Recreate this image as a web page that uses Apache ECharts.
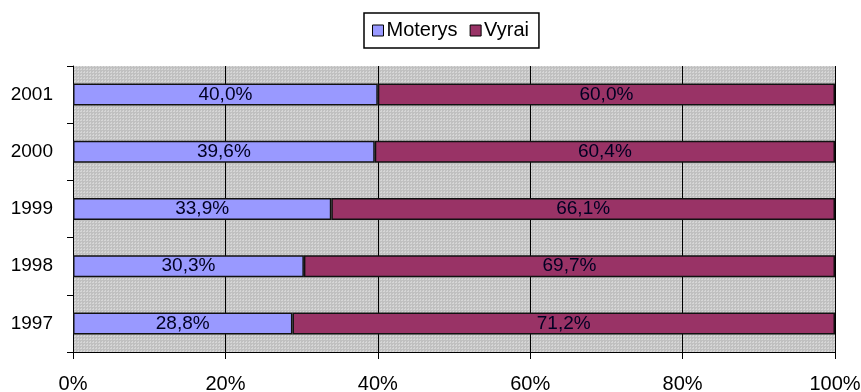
<!DOCTYPE html>
<html>
<head>
<meta charset="utf-8">
<script src="https://cdn.jsdelivr.net/npm/echarts@6/dist/echarts.min.js"></script>
<style>
  html, body { margin: 0; padding: 0; background: #fff; }
  #chart { width: 861px; height: 392px; }
</style>
</head>
<body>
<div id="chart"></div>
<script>
// Share of women (Moterys) and men (Vyrai) by year, in percent
const years = ['1997', '1998', '1999', '2000', '2001'];
const moterys = [28.8, 30.3, 33.9, 39.6, 40.0];
const vyrai = [71.2, 69.7, 66.1, 60.4, 60.0];
const xTicks = [0, 20, 40, 60, 80, 100];

// Dotted grey fill for the plot area
function dotPattern() {
  const c = document.createElement('canvas');
  c.width = 3; c.height = 3;
  const ctx = c.getContext('2d');
  ctx.fillStyle = '#c0c0c0';
  ctx.fillRect(0, 0, 3, 3);
  ctx.fillStyle = '#d6d6d6';
  ctx.fillRect(0, 0, 1, 1);
  ctx.fillRect(0, 2, 1, 1);
  ctx.fillRect(2, 0, 1, 1);
  return c;
}

const fmt = p => p.value.toFixed(1).replace('.', ',') + '%';
const font = 'Arial, "Liberation Sans", sans-serif';

const chart = echarts.init(document.getElementById('chart'));
chart.setOption({
  animation: false,
  textStyle: { fontFamily: font },
  legend: {
    top: 13,
    left: 364,
    itemWidth: 11,
    itemHeight: 11,
    itemGap: 12,
    icon: 'rect',
    borderColor: '#000',
    borderWidth: 1.5,
    padding: [7, 10, 7, 8],
    textStyle: { fontSize: 20, lineHeight: 21, color: '#000', fontFamily: font, padding: [0, 0, 0, -2] },
    data: [
      { name: 'Moterys', itemStyle: { borderColor: '#000', borderWidth: 1 } },
      { name: 'Vyrai', itemStyle: { borderColor: '#000', borderWidth: 1 } }
    ]
  },
  grid: {
    left: 73, right: 26, top: 66, bottom: 40,
    outerBoundsMode: 'none',
    containLabel: false,
    show: true,
    backgroundColor: { image: dotPattern(), repeat: 'repeat' },
    borderWidth: 0
  },
  xAxis: {
    type: 'value',
    min: 0, max: 100, interval: 20,
    axisLine: { show: true, lineStyle: { color: '#000', width: 1 } },
    axisTick: { show: true, length: 7, lineStyle: { color: '#000' } },
    splitLine: { show: true, lineStyle: { color: '#000', width: 1 } },
    axisLabel: {
      margin: 22,
      fontSize: 20,
      color: '#000',
      fontFamily: font,
      formatter: v => (xTicks.includes(v) ? v + '%' : '')
    }
  },
  yAxis: {
    type: 'category',
    data: years,
    axisLine: { show: true, lineStyle: { color: '#000', width: 1 } },
    axisTick: { show: true, length: 6, lineStyle: { color: '#000' } },
    axisLabel: { margin: 20, fontSize: 19, color: '#000', fontFamily: font }
  },
  series: [
    {
      name: 'Moterys',
      type: 'bar',
      stack: 'total',
      data: moterys,
      barWidth: 22,
      itemStyle: { color: '#9999ff', borderColor: '#111', borderWidth: 1.5 },
      label: { show: true, position: 'inside', color: '#000022', fontSize: 19, fontFamily: font, formatter: fmt }
    },
    {
      name: 'Vyrai',
      type: 'bar',
      stack: 'total',
      data: vyrai,
      barWidth: 22,
      itemStyle: { color: '#993366', borderColor: '#111', borderWidth: 1.5 },
      label: { show: true, position: 'inside', color: '#000022', fontSize: 19, fontFamily: font, formatter: fmt }
    }
  ]
});
</script>
</body>
</html>
